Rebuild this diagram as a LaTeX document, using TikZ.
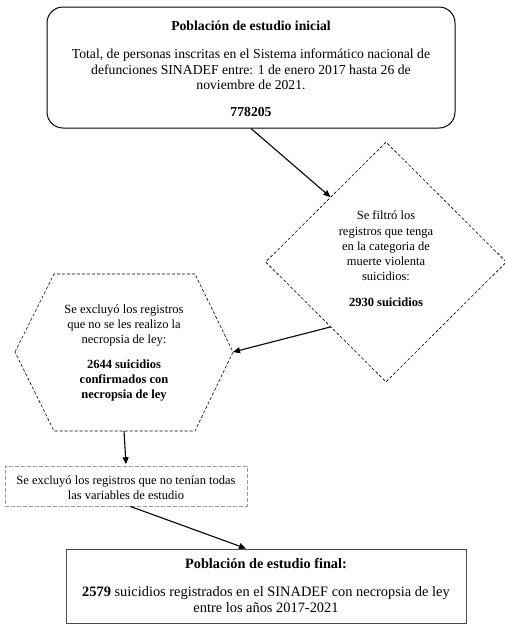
\documentclass[tikz,border=0pt]{standalone}
\usepackage{fontspec}
\setmainfont{Liberation Serif}
\usetikzlibrary{arrows.meta,shapes.geometric,calc}
\begin{document}
\begin{tikzpicture}[x=1pt,y=-1pt,
 txt/.style={align=center,font=\fontsize{12.5}{15.2}\selectfont,inner sep=0pt},
 toptxt/.style={align=center,font=\fontsize{13.7}{15.6}\selectfont,inner sep=0pt},
 fintxt/.style={align=center,font=\fontsize{14.4}{15.2}\selectfont,inner sep=0pt},
 arr/.style={-{Triangle[length=7pt,width=6pt]},line width=1.1pt},
 fine/.style={dash pattern=on 3pt off 2pt,line width=0.6pt}]
\useasboundingbox (0,0) rectangle (505,638);
% top box
\node[draw,line width=1pt,rounded corners=16pt,minimum width=408pt,minimum height=121pt] (top) at (251,67.5) {};
\node[toptxt,font=\bfseries\fontsize{13.7}{15.6}\selectfont] (toptitle) at (251,26) {Población de estudio inicial};
\node[toptxt] (topbody) at (251,69.5) {Total, de personas inscritas en el Sistema informático nacional de\\defunciones SINADEF entre: 1 de enero 2017 hasta 26 de\\noviembre de 2021.};
\node[toptxt,font=\bfseries\fontsize{13.7}{15.6}\selectfont] (topnum) at (251,112) {778205};
% diamond
\node[diamond,draw,fine,minimum width=241pt,minimum height=240pt,inner sep=0pt] (dia) at (386,262) {};
\node[txt] (diatext) at (386,246) {Se filtró los\\registros que tenga\\en la categoria de\\muerte violenta\\suicidios:};
\node[txt,font=\bfseries\fontsize{12.5}{15.2}\selectfont] (dianum) at (386,302) {2930 suicidios};
% hexagon
\coordinate (hexL) at (15,352);
\coordinate (hexR) at (233,352);
\coordinate (hexB) at (124,431);
\draw[fine] (hexL) -- (54,274) -- (195,274) -- (hexR) -- (195,431) -- (54,431) -- cycle;
\node[txt] (hextext) at (124,325.5) {Se excluyó los registros\\que no se les realizo la\\necropsia de ley:};
\node[txt,font=\bfseries\fontsize{12.5}{15.2}\selectfont] (hexnum) at (124,380.5) {2644 suicidios\\confirmados con\\necropsia de ley};
% gray dashed rect
\node[draw=black!40,dash pattern=on 4pt off 2pt,line width=0.6pt,minimum width=242pt,minimum height=40pt,inner sep=0pt] (excl) at (126,486) {};
\node[txt] (excltext) at (126,487.5) {Se excluyó los registros que no tenían todas\\las variables de estudio};
% final box
\node[draw=black!70,line width=1pt,minimum width=400pt,minimum height=74pt,inner sep=0pt] (final) at (266,586) {};
\node[fintxt,font=\bfseries\fontsize{14.3}{15.2}\selectfont] (fintitle) at (266,563.5) {Población de estudio final:};
\node[fintxt] (finbody) at (266,599.5) {\textbf{2579} suicidios registrados en el SINADEF con necropsia de ley\\entre los años 2017-2021};
% arrows
\draw[arr] (top.south) -- ($(dia.north)!0.46!(dia.west)$);
\draw[arr] ($(dia.west)!0.54!(dia.south)$) -- (hexR);
\draw[arr] (hexB) -- ($(excl.north)+(0,-1.5)$);
\draw[arr] ($(excl.south)+(4,0)$) -- ($(final.north)+(-20,0)$);
\end{tikzpicture}
\end{document}
